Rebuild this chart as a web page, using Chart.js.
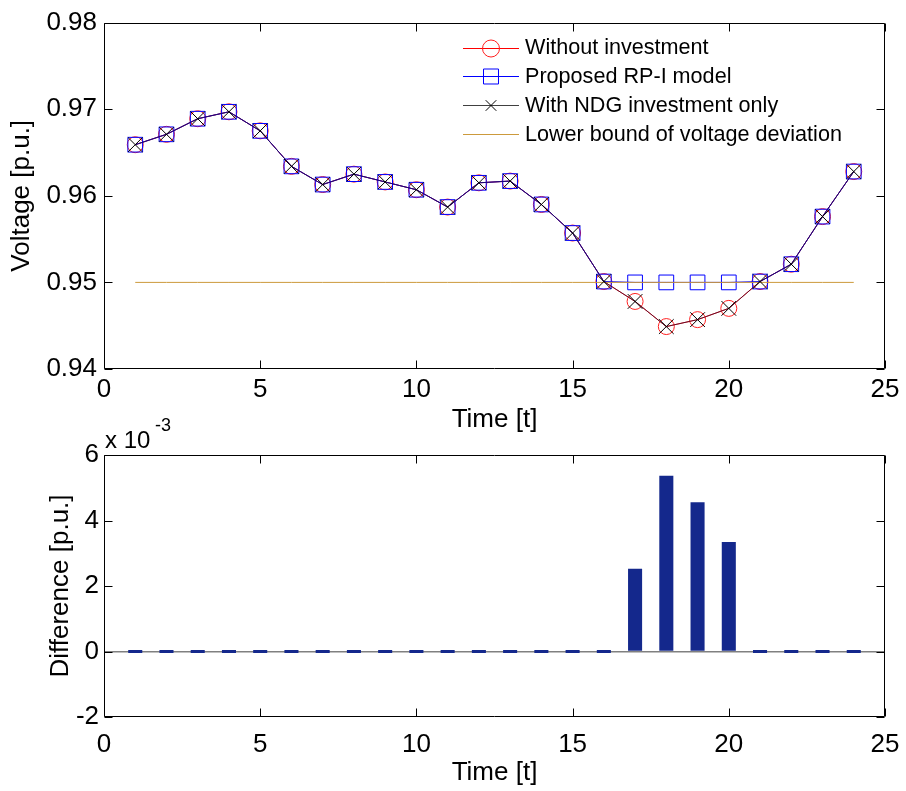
<!DOCTYPE html>
<html><head><meta charset="utf-8">
<script src="https://cdn.jsdelivr.net/npm/chart.js@4.4.0/dist/chart.umd.min.js"></script>
<style>
html,body{margin:0;padding:0;background:#fff;width:906px;height:791px;overflow:hidden;}
.wrap1{position:absolute;left:0;top:0;width:906px;height:440px;}
.wrap2{position:absolute;left:0;top:415px;width:906px;height:376px;}
canvas{display:block;}
</style></head><body>
<div class="wrap1"><canvas id="c1" width="906" height="440"></canvas></div>
<div class="wrap2"><canvas id="c2" width="906" height="376"></canvas></div>
<script>
// ---- data ----
const time = [1,2,3,4,5,6,7,8,9,10,11,12,13,14,15,16,17,18,19,20,21,22,23,24];
const withoutInvestment = [0.9659,0.9671,0.9689,0.9697,0.9675,0.9634,0.9613,0.9625,0.9616,0.9607,0.9587,0.9615,0.9617,0.9590,0.9557,0.9501,0.9478,0.9449,0.9457,0.9470,0.9501,0.9521,0.9576,0.9628];
const proposedRPI       = [0.9659,0.9671,0.9689,0.9697,0.9675,0.9634,0.9613,0.9625,0.9616,0.9607,0.9587,0.9615,0.9617,0.9590,0.9557,0.9501,0.9500,0.9500,0.9500,0.9500,0.9501,0.9521,0.9576,0.9628];
const ndgOnly           = [0.9659,0.9671,0.9689,0.9697,0.9675,0.9634,0.9613,0.9625,0.9616,0.9607,0.9587,0.9615,0.9617,0.9590,0.9557,0.9501,0.9478,0.9449,0.9457,0.9470,0.9501,0.9521,0.9576,0.9628];
const lowerBound        = [0.95,0.95,0.95,0.95,0.95,0.95,0.95,0.95,0.95,0.95,0.95,0.95,0.95,0.95,0.95,0.95,0.95,0.95,0.95,0.95,0.95,0.95,0.95,0.95];
// difference in units of 1e-3 p.u.
const difference = [0,0,0,0,0,0,0,0,0,0,0,0,0,0,0,0,2.53,5.37,4.56,3.34,0,0,0,0];
const xTicks = [0,5,10,15,20,25];
const voltageTicks = [0.94,0.95,0.96,0.97,0.98];
const diffTicks = [-2,0,2,4,6];
const legendLabels = ['Without investment','Proposed RP-I model','With NDG investment only','Lower bound of voltage deviation'];

const FONT = "'Liberation Sans', Arial, Helvetica, sans-serif";
const FS = 26;
const pts = (ys) => time.map((t,i)=>({x:t,y:ys[i]}));

const boxPlugin = {
  id:'matlabBox',
  afterDraw(chart){
    const {ctx, chartArea:a, scales} = chart;
    const L = 8;
    ctx.save();
    ctx.strokeStyle = '#000'; ctx.lineWidth = 1;
    ctx.beginPath();
    const top = Math.round(a.top)+0.5, bot = Math.round(a.bottom)-0.5, lf = Math.round(a.left)+0.5, rt = Math.round(a.right)-0.5;
    scales.x.ticks.forEach(t=>{
      const px = Math.round(scales.x.getPixelForValue(t.value))+0.5;
      ctx.moveTo(px,bot); ctx.lineTo(px,bot-L);
      ctx.moveTo(px,top); ctx.lineTo(px,top+L);
    });
    scales.y.ticks.forEach(t=>{
      const py = Math.round(scales.y.getPixelForValue(t.value))+0.5;
      ctx.moveTo(lf,py); ctx.lineTo(lf+L,py);
      ctx.moveTo(rt,py); ctx.lineTo(rt-L,py);
    });
    ctx.moveTo(lf,top); ctx.lineTo(rt,top); ctx.lineTo(rt,bot); ctx.lineTo(lf,bot); ctx.closePath();
    ctx.stroke();
    ctx.restore();
  }
};

function drawMarker(ctx, style, x, y, r, color){
  ctx.save();
  ctx.strokeStyle = color; ctx.lineWidth = 1;
  ctx.beginPath();
  if (style==='circle'){ ctx.arc(x,y,r,0,Math.PI*2); }
  else if (style==='rect'){ const s=r*Math.SQRT1_2; ctx.rect(x-s,y-s,2*s,2*s); }
  else if (style==='crossRot'){ const s=r*Math.SQRT1_2; ctx.moveTo(x-s,y-s); ctx.lineTo(x+s,y+s); ctx.moveTo(x-s,y+s); ctx.lineTo(x+s,y-s); }
  ctx.stroke();
  ctx.restore();
}

const legendPlugin = {
  id:'matlabLegend',
  afterDraw(chart){
    const ctx = chart.ctx;
    const x0=463, x1=519, xm=491, tx=525, y0=47.5, dy=28.7;
    ctx.save();
    ctx.font = "21.6px " + FONT;
    ctx.textBaseline = 'middle'; ctx.textAlign = 'left';
    chart.data.datasets.forEach((ds,i)=>{
      const y = Math.round(y0 + i*dy)+0.5;
      ctx.strokeStyle = ds.legendLine; ctx.lineWidth = 1;
      ctx.beginPath(); ctx.moveTo(x0,y); ctx.lineTo(x1,y); ctx.stroke();
      if (ds.pointRadius>0) drawMarker(ctx, ds.pointStyle, xm, y, ds.legendR, ds.pointBorderColor);
      ctx.fillStyle = '#000';
      ctx.fillText(ds.label, tx, y0 + i*dy + 1);
    });
    ctx.restore();
  }
};

const expPlugin = {
  id:'expLabel',
  afterDraw(chart){
    const ctx = chart.ctx;
    ctx.save();
    ctx.fillStyle='#000'; ctx.textBaseline='alphabetic'; ctx.textAlign='left';
    ctx.font = "24px " + FONT;
    ctx.fillText('x 10', 105, 33);
    ctx.font = "18px " + FONT;
    ctx.fillText('-3', 155, 16);
    ctx.restore();
  }
};

new Chart(document.getElementById('c1'), {
  type:'line',
  data:{ datasets:[
    {label:legendLabels[0], data:pts(withoutInvestment), borderColor:'#ff0000', borderWidth:1, legendLine:'#ff0000',
     pointStyle:'circle', pointRadius:8, legendR:8.5, pointBorderColor:'#ff2020', pointBackgroundColor:'rgba(0,0,0,0)', pointBorderWidth:1, order:4},
    {label:legendLabels[1], data:pts(proposedRPI), borderColor:'#0000ff', borderWidth:1, legendLine:'#0000ff',
     pointStyle:'rect', pointRadius:10.4, legendR:10.6, pointBorderColor:'#0000ff', pointBackgroundColor:'rgba(0,0,0,0)', pointBorderWidth:1, order:3},
    {label:legendLabels[2], data:pts(ndgOnly), borderColor:'rgba(40,10,50,0.7)', borderWidth:1, legendLine:'#404040',
     pointStyle:'crossRot', pointRadius:10.4, legendR:7.5, pointBorderColor:'#000000', pointBackgroundColor:'rgba(0,0,0,0)', pointBorderWidth:1, order:1},
    {label:legendLabels[3], data:pts(lowerBound), borderColor:'#cc9a3c', borderWidth:1, legendLine:'#cc9a3c',
     pointRadius:0, legendR:0, pointBorderColor:'#cc9a3c', order:2}
  ]},
  options:{
    responsive:false, animation:false, devicePixelRatio:1,
    layout:{padding:{left:0,right:21,top:18,bottom:0}},
    plugins:{legend:{display:false}, tooltip:{enabled:false}},
    elements:{line:{tension:0}},
    scales:{
      x:{type:'linear', min:0, max:25,
         afterBuildTicks:s=>{s.ticks = xTicks.map(v=>({value:v}));},
         afterFit:s=>{s.height = 71;},
         grid:{display:false, drawTicks:false}, border:{display:false},
         ticks:{font:{family:FONT,size:FS}, color:'#000', padding:5, maxRotation:0, autoSkip:false},
         title:{display:true, text:'Time [t]', font:{family:FONT,size:FS}, color:'#000', padding:{top:0,bottom:4.4}}},
      y:{type:'linear', min:0.94, max:0.98,
         afterBuildTicks:s=>{s.ticks = voltageTicks.map(v=>({value:v}));},
         afterFit:s=>{s.width = 104;},
         grid:{display:false, drawTicks:false}, border:{display:false},
         ticks:{font:{family:FONT,size:FS}, color:'#000', padding:7, callback:v=>Number(v).toFixed(2)},
         title:{display:true, text:'Voltage [p.u.]', font:{family:FONT,size:FS}, color:'#000', padding:{top:6.4,bottom:0}}}
    }
  },
  plugins:[boxPlugin, legendPlugin]
});

new Chart(document.getElementById('c2'), {
  type:'bar',
  data:{ datasets:[
    {label:'Difference', data:pts(difference), backgroundColor:'#14288c', borderWidth:0,
     barPercentage:0.45, categoryPercentage:1, minBarLength:3}
  ]},
  options:{
    responsive:false, animation:false, devicePixelRatio:1,
    layout:{padding:{left:0,right:21,top:40,bottom:0}},
    plugins:{legend:{display:false}, tooltip:{enabled:false}},
    scales:{
      x:{type:'linear', min:0, max:25, offset:false,
         afterBuildTicks:s=>{s.ticks = xTicks.map(v=>({value:v}));},
         afterFit:s=>{s.height = 74;},
         grid:{display:false, drawTicks:false}, border:{display:false},
         ticks:{font:{family:FONT,size:FS,lineHeight:1.74}, color:'#000', padding:5, maxRotation:0, autoSkip:false},
         title:{display:true, text:'Time [t]', font:{family:FONT,size:FS}, color:'#000', padding:{top:0,bottom:2.4}}},
      y:{type:'linear', min:-2, max:6,
         afterBuildTicks:s=>{s.ticks = diffTicks.map(v=>({value:v}));},
         afterFit:s=>{s.width = 104;},
         grid:{display:true, drawTicks:false, lineWidth:1.5, color:c=> (c.tick && c.tick.value===0) ? '#808080' : 'rgba(0,0,0,0)'},
         border:{display:false},
         ticks:{font:{family:FONT,size:FS}, color:'#000', padding:5, callback:v=>String(v)},
         title:{display:true, text:'Difference [p.u.]', font:{family:FONT,size:FS}, color:'#000', padding:{top:45.4,bottom:0}}}
    }
  },
  plugins:[boxPlugin, expPlugin]
});
</script>
</body></html>
